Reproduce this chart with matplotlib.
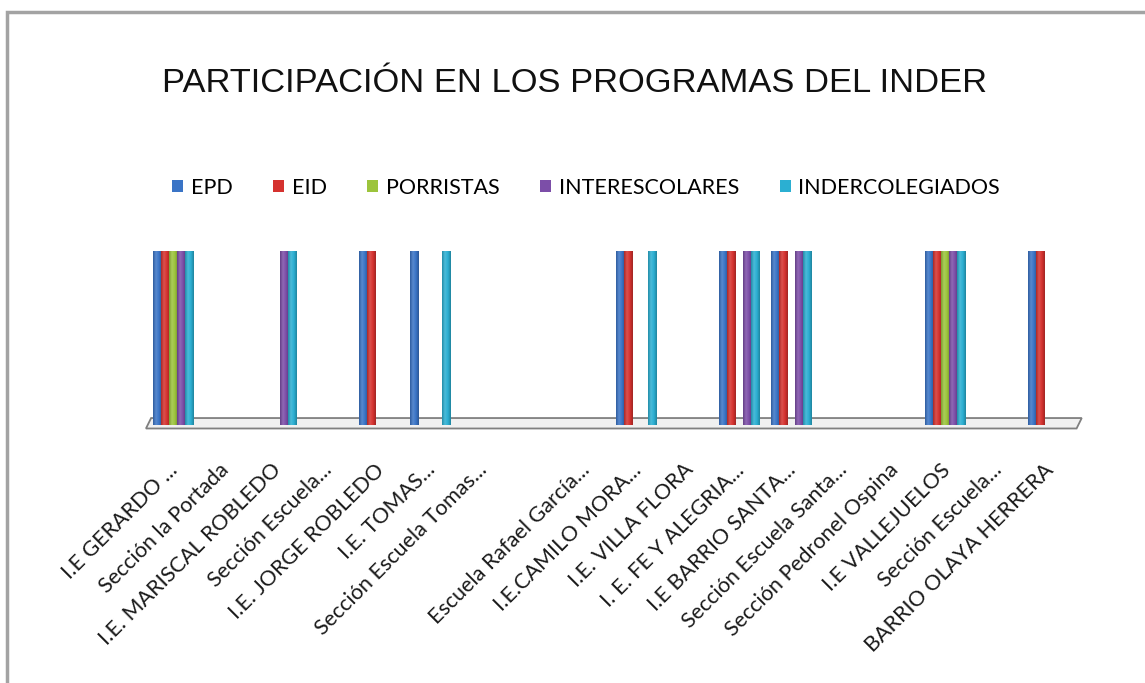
import matplotlib
matplotlib.use("Agg")
import matplotlib.pyplot as plt
from matplotlib.patches import Rectangle, Polygon
from matplotlib.colors import LinearSegmentedColormap, to_rgb
import numpy as np

categories = [
    "I.E GERARDO ...", "Sección la Portada", "I.E. MARISCAL ROBLEDO",
    "Sección Escuela...", "I.E. JORGE ROBLEDO", "I.E. TOMAS...",
    "Sección Escuela Tomas...", "", "Escuela Rafael García...",
    "I.E.CAMILO MORA...", "I.E. VILLA FLORA", "I. E. FE Y ALEGRIA...",
    "I.E BARRIO SANTA...", "Sección Escuela Santa...", "Sección Pedronel Ospina",
    "I.E VALLEJUELOS", "Sección Escuela...", "BARRIO OLAYA HERRERA",
]
series_names = ["EPD", "EID", "PORRISTAS", "INTERESCOLARES", "INDERCOLEGIADOS"]
epd =             [1, 0, 0, 0, 1, 1, 0, 0, 0, 1, 0, 1, 1, 0, 0, 1, 0, 1]
eid =             [1, 0, 0, 0, 1, 0, 0, 0, 0, 1, 0, 1, 1, 0, 0, 1, 0, 1]
porristas =       [1, 0, 0, 0, 0, 0, 0, 0, 0, 0, 0, 0, 0, 0, 0, 1, 0, 0]
interescolares =  [1, 0, 1, 0, 0, 0, 0, 0, 0, 0, 0, 1, 1, 0, 0, 1, 0, 0]
indercolegiados = [1, 0, 1, 0, 0, 1, 0, 0, 0, 1, 0, 1, 1, 0, 0, 1, 0, 0]
series_values = [epd, eid, porristas, interescolares, indercolegiados]
colors = ["#3A74C6", "#D5322F", "#9CC43C", "#7C4EA8", "#2BAFD2"]
edge_colors = ["#22528F", "#9B2220", "#6E8F25", "#573479", "#1B7F99"]

W, H = 1145, 683
fig = plt.figure(figsize=(W / 100, H / 100), dpi=100)
fig.patch.set_facecolor("white")

# outer border
fig.add_artist(Rectangle((7 / W, -0.05), 1.2, 1 - 12 / H + 0.05, transform=fig.transFigure,
                         fill=False, edgecolor="#A3A3A3", linewidth=2.5))

fig.text(574 / W, 1 - 84 / H, "PARTICIPACIÓN EN LOS PROGRAMAS DEL INDER",
         ha="center", va="center", fontsize=24.8, family="Liberation Sans", color="#111111")

left, right = 147, 1074
top_px, base_px = 251, 425
ax = fig.add_axes([left / W, 1 - base_px / H, (right - left) / W, (base_px - top_px) / H])
ax.axis("off")

x = np.arange(len(categories))
bw = 0.156
grad = np.linspace(0, 1, 64).reshape(1, -1)


def shade(c, f):
    r = np.array(to_rgb(c))
    if f < 1:
        return tuple(r * f)
    return tuple(r + (1 - r) * (f - 1))


for i, (vals, c, ec, name) in enumerate(zip(series_values, colors, edge_colors, series_names)):
    offs = (i - 2) * bw
    bars = ax.bar(x + offs, vals, width=bw, color=c, edgecolor=ec, linewidth=0.7,
                  zorder=3, label=name)
    cmap = LinearSegmentedColormap.from_list(
        f"g{i}", [shade(c, 0.8), shade(c, 1.15), shade(c, 1.0), shade(c, 0.75)])
    for b in bars:
        h = b.get_height()
        if h <= 0:
            continue
        x0 = b.get_x()
        im = ax.imshow(grad, extent=[x0, x0 + b.get_width(), 0, h], cmap=cmap,
                       aspect="auto", zorder=3.5, interpolation="bilinear")
        im.set_clip_path(b)

ax.set_xlim(-0.5, len(categories) - 0.5)
ax.set_ylim(0, 1)

# floor plane
floor = Polygon([(-0.52, -0.02), (17.55, -0.02), (17.65, 0.04), (-0.42, 0.04)],
                closed=True, facecolor="#F0F0F0", edgecolor="#7F7F7F", linewidth=1.3,
                zorder=2, clip_on=False)
ax.add_patch(floor)

for xi, lab in zip(x, categories):
    ax.text(xi - 0.1, -0.2, lab, rotation=45, ha="right", va="top",
            rotation_mode="anchor", fontsize=15.5, family="Lato", color="#1A1A1A",
            clip_on=False)

leg = fig.legend(loc="center", bbox_to_anchor=(586 / W, 1 - 188 / H), ncol=5,
                 frameon=False, prop={"family": "Lato", "size": 15.5},
                 handlelength=0.5, handleheight=0.5, handletextpad=0.35,
                 columnspacing=1.9)
for h in leg.legend_handles:
    h.set_edgecolor("none")

fig.savefig("out.png", dpi=100, facecolor="white")
